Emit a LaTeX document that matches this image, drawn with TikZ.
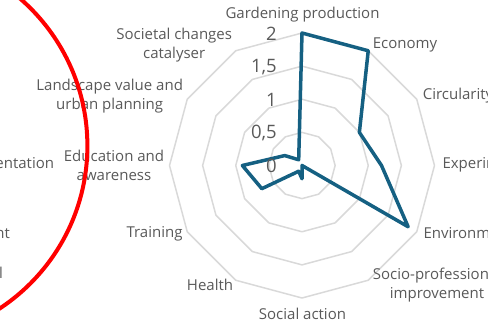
\documentclass[tikz,border=0pt]{standalone}
\usepackage{fontspec}
\setmainfont{Open Sans}
\definecolor{datablue}{HTML}{156082}
\definecolor{gridgray}{HTML}{D9D9D9}
\definecolor{labelgray}{HTML}{595959}
\begin{document}
\begin{tikzpicture}[x=1pt,y=-1pt,
  gridline/.style={draw=gridgray,line width=1.5pt,line join=round},
  dataline/.style={draw=datablue,line width=3.5pt,line join=round},
  axlabel/.style={text=labelgray,font=\fontsize{15}{19}\selectfont,inner sep=0pt,align=center},
  numlabel/.style={text=labelgray,font=\fontsize{18.5}{20}\selectfont,inner sep=0pt,anchor=east},
  redring/.style={draw=red,line width=4pt}]
\useasboundingbox (0,0) rectangle (488,332);
\clip (0,0) rectangle (488,332);
\def\cx{302}\def\cy{165.5}\def\u{66.25}
% grid rings
\foreach \v in {0.5,1,1.5,2}{
  \draw[gridline] plot[samples at={0,30,...,330}] ({\cx+\v*\u*sin(\x)},{\cy-\v*\u*cos(\x)}) -- cycle;
}
% data points
\foreach \v [count=\i from 0] in {2,2,1,1.2,1.85,0,0.2,0.1,0.7,0.9,0.3,0.1}{
  \coordinate (d\i) at ({\cx+\v*\u*sin(30*\i)},{\cy-\v*\u*cos(30*\i)});
}
\draw[dataline] (d0) -- (d1) -- (d2) -- (d3) -- (d4) -- (d5) -- (d6) -- (d7) -- (d8) -- (d9) -- (d10) -- (d11) -- cycle;
% axis numbers
\node[numlabel] (n2) at (277,34) {2};
\node[numlabel] (n15) at (277,67) {1,5};
\node[numlabel] (n1) at (277,100) {1};
\node[numlabel] (n05) at (277,133) {0,5};
\node[numlabel] (n0) at (277,166) {0};
% category labels
\node[axlabel] (lgard) at (302.5,15) {Gardening production};
\node[axlabel,anchor=west] (lecon) at (372.7,45) {Economy};
\node[axlabel,anchor=west] (lcirc) at (422.7,96) {Circularity};
\node[axlabel,anchor=west] (lexp) at (442.3,165) {Experimentation};
\node[axlabel,anchor=west] (lenv) at (423.3,233) {Environment};
\node[axlabel] (lsocio) at (437,285) {Socio-professional\\improvement};
\node[axlabel] (lsoc) at (302.5,314) {Social action};
\node[axlabel] (lhealth) at (210,285) {Health};
\node[axlabel,anchor=east] (ltrain) at (182.7,233.3) {Training};
\node[axlabel] (ledu) at (114,165.5) {Education and\\awareness};
\node[axlabel] (lland) at (109.7,96) {Landscape value and\\urban planning};
\node[axlabel] (lsocch) at (174.2,45) {Societal changes\\catalyser};
% labels of the neighbouring chart
\node[axlabel,anchor=east] (xexp) at (54.3,165) {Experimentation};
\node[axlabel,anchor=east] (xenv) at (10,233.3) {Environment};
\node[axlabel,anchor=east] (xsocio) at (3,275) {Socio-professional};
% red ring
\draw[redring] (-107.3,145.8) circle[radius=194.7];
\end{tikzpicture}
\end{document}
